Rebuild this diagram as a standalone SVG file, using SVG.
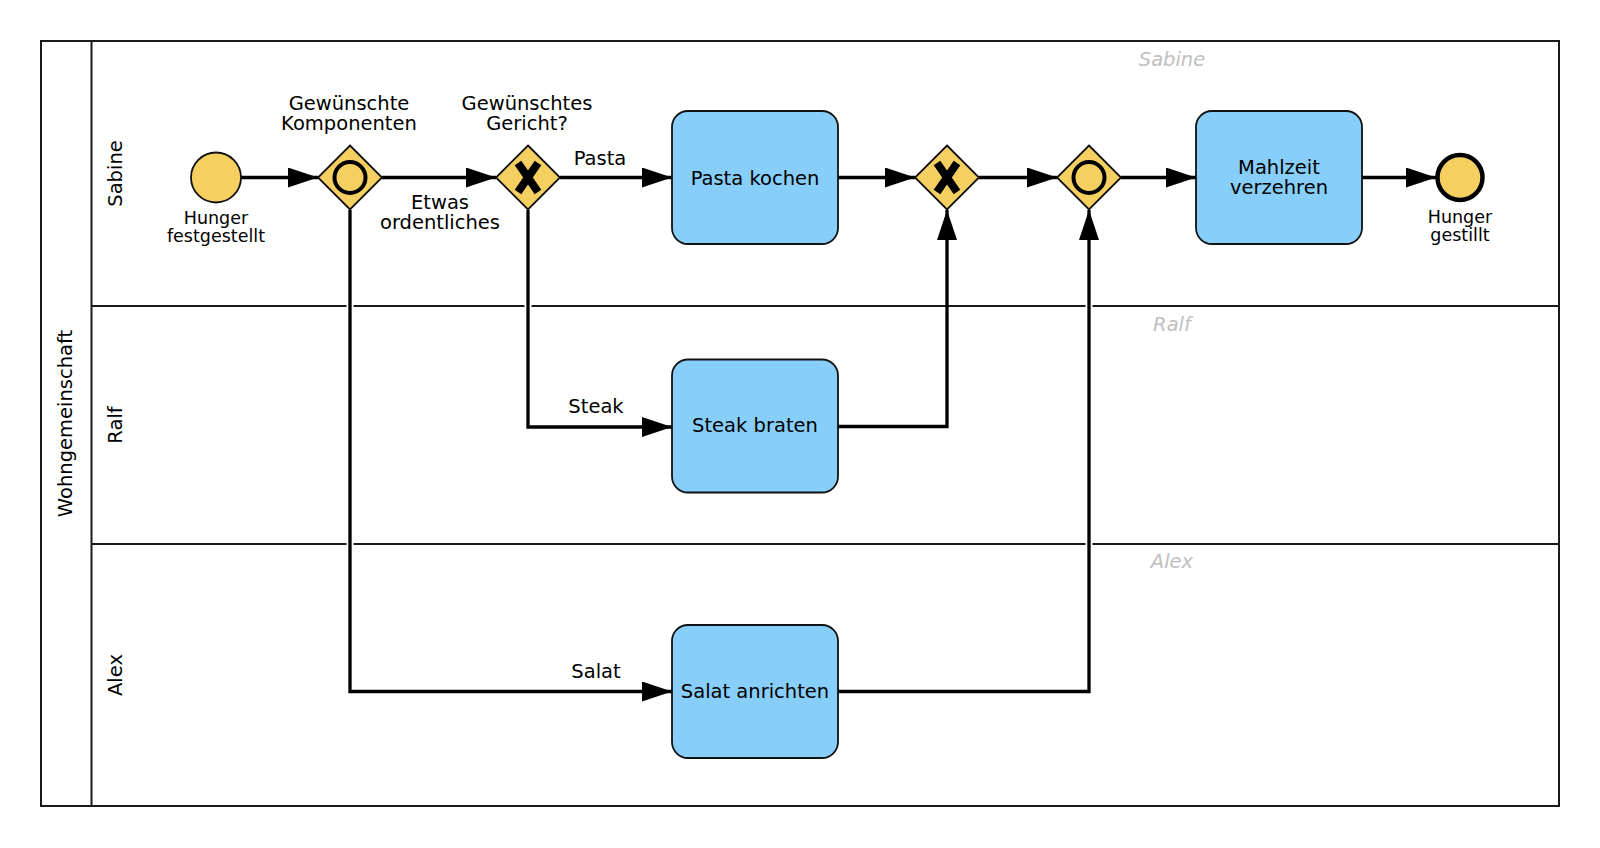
<svg xmlns="http://www.w3.org/2000/svg" width="1600" height="848" viewBox="0 0 1600 848">
<defs>
<style>
text{font-family:"DejaVu Sans","Verdana",sans-serif;fill:#000;}
.lbl{font-size:19.5px;text-anchor:middle;}
.ev{font-size:17.5px;text-anchor:middle;}
.ghost{font-size:19.5px;font-style:italic;fill:#c0c0c0;text-anchor:middle;}
.pool{fill:#fff;stroke:#1a1a1a;stroke-width:2;}
.lane{fill:none;stroke:#1a1a1a;stroke-width:2;}
.task{fill:#87cefa;stroke:#111;stroke-width:1.8;}
.gw{fill:#f5cf60;stroke:#111;stroke-width:1.8;}
.ev-shape{fill:#f5cf60;stroke:#111;stroke-width:1.8;}
.end{fill:#f5cf60;stroke:#000;stroke-width:4.5;}
.xm{stroke:#000;stroke-width:8;fill:none;stroke-linecap:butt;}
.om{fill:none;stroke:#000;stroke-width:4;}
.halo{fill:none;stroke:#fff;stroke-width:7;}
.flow{fill:none;stroke:#000;stroke-width:3.3;marker-end:url(#arr);}
</style>
<marker id="arr" markerUnits="userSpaceOnUse" markerWidth="31" markerHeight="21" refX="30" refY="10" orient="auto">
<path d="M0,0 L30,10 L0,20 z" fill="#000"/>
</marker>
</defs>
<rect width="1600" height="848" fill="#fff"/>
<g id="pool">
<rect class="pool" x="41" y="41" width="1518" height="765"/>
<line class="lane" x1="91.5" y1="41" x2="91.5" y2="806"/>
<line class="lane" x1="91.5" y1="306" x2="1559" y2="306"/>
<line class="lane" x1="91.5" y1="544" x2="1559" y2="544"/>
<text class="lbl" transform="translate(71.5,423.5) rotate(-90)">Wohngemeinschaft</text>
<text class="lbl" transform="translate(121.5,173.5) rotate(-90)">Sabine</text>
<text class="lbl" transform="translate(121.5,425) rotate(-90)">Ralf</text>
<text class="lbl" transform="translate(121.5,675) rotate(-90)">Alex</text>
<text class="ghost" x="1172" y="66">Sabine</text>
<text class="ghost" x="1172" y="331">Ralf</text>
<text class="ghost" x="1172" y="568">Alex</text>
</g>
<g id="connectors">
<path class="halo" d="M350,210 V691.5 H645"/>
<path class="halo" d="M838,691.5 H1089 V238"/>
<path class="halo" d="M528,210 V427 H645"/>
<path class="flow" d="M241,177.5 H318"/>
<path class="flow" d="M382,177.5 H496"/>
<path class="flow" d="M560,177.5 H672"/>
<path class="flow" d="M528,210 V427 H672"/>
<path class="flow" d="M350,210 V691.5 H672"/>
<path class="flow" d="M838,177.5 H915"/>
<path class="flow" d="M838,426.5 H947 V210"/>
<path class="flow" d="M979,177.5 H1057"/>
<path class="flow" d="M838,691.5 H1089 V210"/>
<path class="flow" d="M1121,177.5 H1196"/>
<path class="flow" d="M1362,177.5 H1436"/>
<text class="lbl" x="440" y="209">Etwas</text>
<text class="lbl" x="440" y="228.5">ordentliches</text>
<text class="lbl" x="600" y="165">Pasta</text>
<text class="lbl" x="596" y="413">Steak</text>
<text class="lbl" x="596" y="678">Salat</text>
</g>
<g id="start">
<circle class="ev-shape" cx="216" cy="177.5" r="25"/>
<text class="ev" x="216" y="223.5">Hunger</text>
<text class="ev" x="216" y="241.5">festgestellt</text>
</g>
<g id="gw1">
<path class="gw" d="M350,145.5 L382,177.5 L350,209.5 L318,177.5 z"/>
<circle class="om" cx="350" cy="177.5" r="15.5"/>
<text class="lbl" x="349" y="110">Gewünschte</text>
<text class="lbl" x="349" y="129.5">Komponenten</text>
</g>
<g id="gw2">
<path class="gw" d="M528,145.5 L560,177.5 L528,209.5 L496,177.5 z"/>
<path class="xm" d="M518,163 L538,192 M538,163 L518,192"/>
<text class="lbl" x="527" y="110">Gewünschtes</text>
<text class="lbl" x="527" y="129.5">Gericht?</text>
</g>
<g id="pasta">
<rect class="task" x="672" y="111" width="166" height="133" rx="16"/>
<text class="lbl" x="755" y="184.5">Pasta kochen</text>
</g>
<g id="steak">
<rect class="task" x="672" y="359.5" width="166" height="133" rx="16"/>
<text class="lbl" x="755" y="432">Steak braten</text>
</g>
<g id="salat">
<rect class="task" x="672" y="625" width="166" height="133" rx="16"/>
<text class="lbl" x="755" y="698">Salat anrichten</text>
</g>
<g id="gw3">
<path class="gw" d="M947,145.5 L979,177.5 L947,209.5 L915,177.5 z"/>
<path class="xm" d="M937,163 L957,192 M957,163 L937,192"/>
</g>
<g id="gw4">
<path class="gw" d="M1089,145.5 L1121,177.5 L1089,209.5 L1057,177.5 z"/>
<circle class="om" cx="1089" cy="177.5" r="15.5"/>
</g>
<g id="mahlzeit">
<rect class="task" x="1196" y="111" width="166" height="133" rx="16"/>
<text class="lbl" x="1279" y="174">Mahlzeit</text>
<text class="lbl" x="1279" y="193.5">verzehren</text>
</g>
<g id="end">
<circle class="end" cx="1460" cy="177.5" r="22.5"/>
<text class="ev" x="1460" y="222.5">Hunger</text>
<text class="ev" x="1460" y="240.5">gestillt</text>
</g>
</svg>
